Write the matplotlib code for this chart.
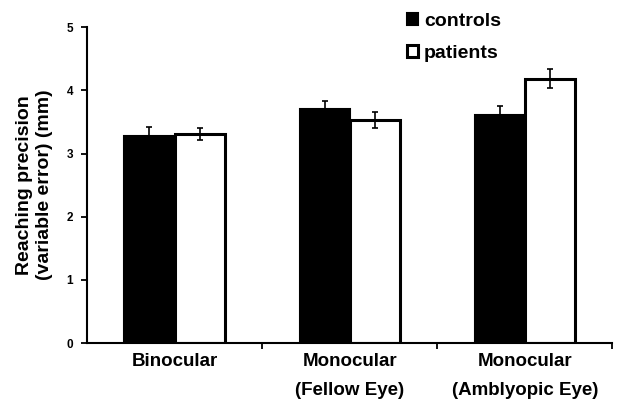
import matplotlib.pyplot as plt
import numpy as np

plt.rcParams['font.family'] = ['Liberation Sans', 'DejaVu Sans']
plt.rcParams['font.weight'] = 'bold'
plt.rcParams['axes.labelweight'] = 'bold'

conditions = ['Binocular', 'Monocular\n(Fellow Eye)', 'Monocular\n(Amblyopic Eye)']
controls = [3.28, 3.70, 3.61]
controls_err = [0.14, 0.13, 0.14]
patients = [3.31, 3.53, 4.18]
patients_err = [0.10, 0.13, 0.15]

ind = np.arange(len(conditions))
width = 0.286

fig = plt.figure(figsize=(6.21, 4.11), dpi=100)
ax = fig.add_axes([0.140, 0.165, 0.846, 0.769])

err_kw = dict(ecolor='black', elinewidth=1.2, capsize=2.5, capthick=1.2)
b1 = ax.bar(ind - width / 2, controls, width, color='black', edgecolor='black',
            linewidth=1.5, yerr=controls_err, error_kw=err_kw)
b2 = ax.bar(ind + width / 2, patients, width, color='white', edgecolor='black',
            linewidth=2.2, yerr=patients_err, error_kw=err_kw)

ax.set_xlim(-0.5, 2.5)
ax.set_ylim(0, 5)
ax.set_yticks([0, 1, 2, 3, 4, 5])
ax.tick_params(axis='y', labelsize=8.5, length=4, width=1.3, pad=6)
ax.set_xticks([0.5, 1.5, 2.5])
ax.set_xticklabels([])
ax.tick_params(axis='x', which='major', length=4, width=1.3)
ax.set_xticks(ind, minor=True)
ax.set_xticklabels(conditions, minor=True, fontsize=13.5, linespacing=1.95)
ax.tick_params(axis='x', which='minor', length=0, pad=7)

for s in ['top', 'right']:
    ax.spines[s].set_visible(False)
for s in ['left', 'bottom']:
    ax.spines[s].set_linewidth(1.5)

ax.set_ylabel('Reaching precision\n(variable error) (mm)', fontsize=14, labelpad=10)

ax.legend((b1[0], b2[0]), ('controls', 'patients'), loc='upper left',
          bbox_to_anchor=(0.575, 1.1), frameon=False, fontsize=14,
          handlelength=0.6, handleheight=0.6, handletextpad=0.3, labelspacing=0.75)

plt.savefig('out.png', dpi=100)
